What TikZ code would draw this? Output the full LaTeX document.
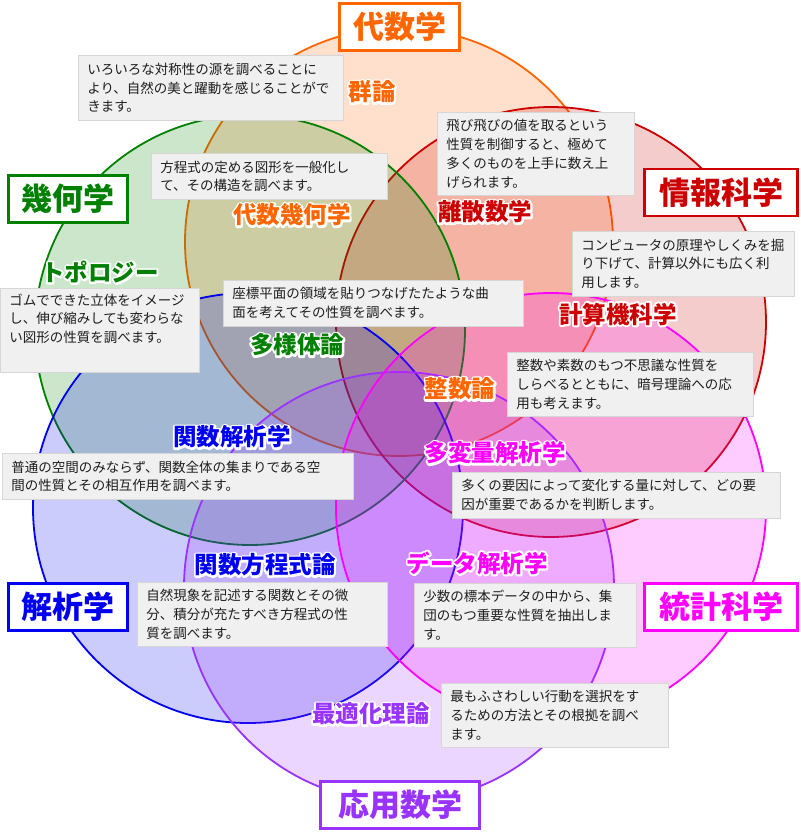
\documentclass[tikz,border=0pt]{standalone}
\usepackage{fontspec}
\setmainfont{Noto Sans CJK JP}
\usepackage{tikz}
\definecolor{mtalg}{HTML}{FF6600}
\definecolor{mtinfo}{HTML}{CC0000}
\definecolor{mtgeo}{HTML}{008000}
\definecolor{mtana}{HTML}{0000F0}
\definecolor{mtapp}{HTML}{9933FF}
\definecolor{mtstat}{HTML}{FF00FF}
\definecolor{mtboxbg}{HTML}{F0F0F0}
\definecolor{mtboxln}{HTML}{D6D6D6}
\definecolor{mtink}{HTML}{1E1E1E}
% white halo: stroked copy under the filled text
\newcommand{\glow}[1]{\leavevmode\rlap{\special{pdf:literal direct 1 Tr 4 w 1 j 1 1 1 RG}#1\special{pdf:literal direct 0 Tr}}#1}

\begin{document}
\begin{tikzpicture}[
      x=1pt, y=-1pt,
      field/.style={draw=#1, fill=#1, fill opacity=0.2, line width=1.8pt},
      title/.style={draw=#1, text=#1, fill=white, line width=2.6pt,
                    font=\fontsize{31}{34}\selectfont\bfseries,
                    minimum height=47pt, inner sep=0pt},
      topic/.style={text=#1, font=\fontsize{23.5}{26}\selectfont\bfseries,
                    inner sep=0pt},
      desc/.style={fill=mtboxbg, draw=mtboxln, line width=0.6pt,
                   anchor=north west, align=left, text=mtink,
                   inner xsep=9pt, inner ysep=0pt,
                   font=\fontsize{13.5}{18.8}\selectfont},
    ]
    \useasboundingbox (0,0) rectangle (800,832);

    % ---------- circles ----------
    \coordinate (calg)  at (399,242);
    \coordinate (cinfo) at (551,322);
    \coordinate (cgeo)  at (250,330);
    \coordinate (cana)  at (248,508);
    \coordinate (capp)  at (399,587);
    \coordinate (cstat) at (551,508);
    \draw[field=mtalg]  (calg)  circle[radius=214pt];
    \draw[field=mtinfo] (cinfo) circle[radius=215pt];
    \draw[field=mtgeo]  (cgeo)  circle[radius=215pt];
    \draw[field=mtana]  (cana)  circle[radius=215pt];
    \draw[field=mtapp]  (capp)  circle[radius=215pt];
    \draw[field=mtstat] (cstat) circle[radius=215pt];

    % ---------- descriptions ----------
    \node[desc, text width=247pt, minimum height=65pt] (dgroup) at (78,55)
      {いろいろな対称性の源を調べることに\\より、自然の美と躍動を感じることがで\\きます。};
    \node[desc, text width=218pt, minimum height=46pt] (dalggeo) at (151,153)
      {方程式の定める図形を一般化し\\て、その構造を調べます。};
    \node[desc, text width=181pt, minimum height=84pt] (dtopo) at (0,288)
      {ゴムでできた立体をイメージ\\し、伸び縮みしても変わらな\\い図形の性質を調べます。\\ \strut};
    \node[desc, text width=282pt, minimum height=46pt] (dmani) at (223,280)
      {座標平面の領域を貼りつなげたたような曲\\面を考えてその性質を調べます。};
    \node[desc, text width=179pt, minimum height=83pt] (ddisc) at (437,112)
      {飛び飛びの値を取るという\\性質を制御すると、極めて\\多くのものを上手に数え上\\げられます。};
    \node[desc, text width=204pt, minimum height=65pt] (dcomp) at (572,231)
      {コンピュータの原理やしくみを掘\\り下げて、計算以外にも広く利\\用します。};
    \node[desc, text width=228pt, minimum height=64pt] (dnum) at (507,352)
      {整数や素数のもつ不思議な性質を\\しらべるとともに、暗号理論への応\\用も考えます。};
    \node[desc, text width=310pt, minimum height=46pt] (dmulti) at (452,472)
      {多くの要因によって変化する量に対して、どの要\\因が重要であるかを判断します。};
    \node[desc, text width=333pt, minimum height=46pt] (dfunc) at (2,453)
      {普通の空間のみならず、関数全体の集まりである空\\間の性質とその相互作用を調べます。};
    \node[desc, text width=232pt, minimum height=64pt] (dfeq) at (137,582)
      {自然現象を記述する関数とその微\\分、積分が充たすべき方程式の性\\質を調べます。};
    \node[desc, text width=204pt, minimum height=64pt] (ddata) at (414,583)
      {少数の標本データの中から、集\\団のもつ重要な性質を抽出しま\\す。};
    \node[desc, text width=209pt, minimum height=64pt] (dopt) at (441,683)
      {最もふさわしい行動を選択をす\\るための方法とその根拠を調べ\\ます。};

    % ---------- topics ----------
    \node[topic=mtalg]  (group)  at (372,92)  {\glow{群論}};
    \node[topic=mtalg]  (alggeo) at (292,215) {\glow{代数幾何学}};
    \node[topic=mtinfo] (disc)   at (485,212) {\glow{離散数学}};
    \node[topic=mtgeo]  (topo)   at (100,272) {\glow{トポロジー}};
    \node[topic=mtinfo] (comp)   at (618,314) {\glow{計算機科学}};
    \node[topic=mtgeo]  (mani)   at (297,345) {\glow{多様体論}};
    \node[topic=mtalg]  (num)    at (460,389) {\glow{整数論}};
    \node[topic=mtana]  (func)   at (232,437) {\glow{関数解析学}};
    \node[topic=mtstat] (multi)  at (495,453) {\glow{多変量解析学}};
    \node[topic=mtana]  (feq)    at (265,565) {\glow{関数方程式論}};
    \node[topic=mtstat] (data)   at (477,563) {\glow{データ解析学}};
    \node[topic=mtapp]  (opt)    at (371,714) {\glow{最適化理論}};

    % ---------- fields ----------
    \node[title=mtalg,  minimum width=120pt] (alg)  at (399.5,27)  {代数学};
    \node[title=mtinfo, minimum width=153pt] (info) at (721,192.5) {情報科学};
    \node[title=mtgeo,  minimum width=119pt] (geo)  at (68,199)    {幾何学};
    \node[title=mtana,  minimum width=119pt] (ana)  at (68,607)    {解析学};
    \node[title=mtstat, minimum width=153pt] (stat) at (721,607)   {統計科学};
    \node[title=mtapp,  minimum width=159pt] (app)  at (400,805)   {応用数学};

  \end{tikzpicture}
\end{document}
